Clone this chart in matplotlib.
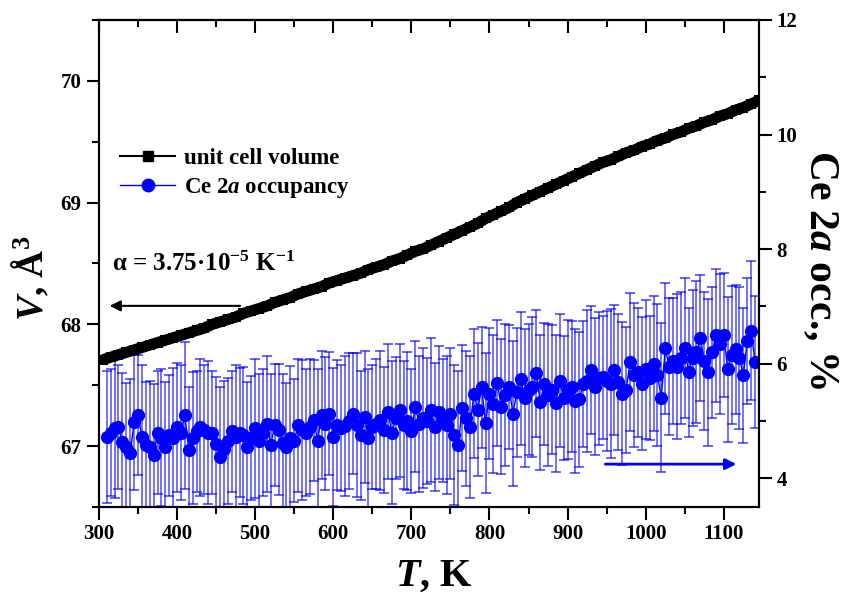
import numpy as np
import matplotlib
matplotlib.use('Agg')
import matplotlib.pyplot as plt
from matplotlib.ticker import MultipleLocator
from matplotlib.lines import Line2D

plt.rcParams['font.family'] = ['Liberation Serif', 'DejaVu Serif']
plt.rcParams['font.weight'] = 'bold'
plt.rcParams['axes.labelweight'] = 'bold'
plt.rcParams['mathtext.fontset'] = 'custom'
plt.rcParams['mathtext.rm'] = 'Liberation Serif:bold'
plt.rcParams['mathtext.it'] = 'Liberation Serif:bold:italic'
plt.rcParams['mathtext.bf'] = 'Liberation Serif:bold'

# unit cell volume (left axis), every 10 K
temp_vol = list(range(305, 1146, 10))
volume = [67.71, 67.73, 67.75, 67.77, 67.79, 67.81, 67.83, 67.85, 67.87, 67.89,
          67.91, 67.93, 67.95, 67.97, 68.00, 68.02, 68.04, 68.06, 68.09, 68.11,
          68.13, 68.15, 68.18, 68.20, 68.22, 68.25, 68.27, 68.29, 68.31, 68.34,
          68.36, 68.38, 68.40, 68.42, 68.45, 68.47, 68.49, 68.52, 68.54, 68.57,
          68.60, 68.62, 68.65, 68.68, 68.71, 68.74, 68.77, 68.80, 68.83, 68.87,
          68.90, 68.93, 68.96, 69.00, 69.03, 69.06, 69.09, 69.12, 69.15, 69.18,
          69.21, 69.24, 69.27, 69.30, 69.33, 69.35, 69.38, 69.41, 69.43, 69.46,
          69.48, 69.51, 69.53, 69.56, 69.58, 69.61, 69.63, 69.66, 69.68, 69.71,
          69.73, 69.76, 69.78, 69.81, 69.84]

# Ce 2a occupancy (right axis), every 5 K
temp_occ = list(range(310, 1141, 5))
occ = [4.72, 4.80, 4.87, 4.89, 4.63, 4.55, 4.44, 4.98, 5.10, 4.72,
       4.58, 4.54, 4.40, 4.80, 4.71, 4.54, 4.75, 4.70, 4.89, 4.80,
       5.10, 4.49, 4.70, 4.82, 4.89, 4.85, 4.80, 4.80, 4.60, 4.37,
       4.52, 4.65, 4.82, 4.72, 4.80, 4.75, 4.54, 4.70, 4.87, 4.66,
       4.80, 4.95, 4.58, 4.93, 4.85, 4.62, 4.54, 4.70, 4.66, 4.93,
       4.85, 4.80, 4.90, 5.01, 4.66, 5.10, 4.95, 5.13, 4.72, 4.93,
       4.88, 4.92, 5.00, 5.13, 4.93, 4.75, 5.07, 4.70, 4.90, 4.95,
       5.01, 4.85, 5.16, 4.80, 5.05, 5.19, 4.93, 5.00, 4.82, 5.25,
       4.95, 5.05, 5.00, 5.19, 4.90, 5.15, 5.01, 4.93, 5.13, 4.75,
       4.58, 5.22, 5.05, 4.89, 5.48, 5.20, 5.59, 4.96, 5.48, 5.30,
       5.66, 5.25, 5.45, 5.59, 5.13, 5.50, 5.74, 5.40, 5.55, 5.60,
       5.83, 5.33, 5.65, 5.45, 5.55, 5.31, 5.70, 5.40, 5.55, 5.60,
       5.35, 5.38, 5.65, 5.70, 5.89, 5.60, 5.75, 5.76, 5.70, 5.65,
       5.89, 5.68, 5.48, 5.55, 6.03, 5.80, 5.85, 5.65, 5.90, 5.75,
       6.00, 5.80, 5.41, 6.27, 5.95, 6.05, 5.95, 6.10, 6.27, 5.85,
       6.10, 6.20, 6.45, 6.05, 5.85, 6.20, 6.50, 6.35, 6.50, 5.90,
       6.15, 6.25, 6.10, 5.80, 6.40, 6.58, 6.03]
occ_err = [1.15, 1.10, 1.22, 1.08, 1.20, 1.12, 1.30, 1.18, 1.05, 1.25,
           1.10, 1.16, 1.24, 1.08, 1.20, 1.14, 1.06, 1.22, 1.12, 1.18,
           1.28, 1.10, 1.15, 1.05, 1.20, 1.12, 1.24, 1.08, 1.16, 1.22,
           1.18, 1.10, 1.06, 1.25, 1.12, 1.20, 1.14, 1.08, 1.22, 1.16,
           1.10, 1.18, 1.24, 1.06, 1.14, 1.20, 1.12, 1.26, 1.08, 1.16,
           1.22, 1.10, 1.18, 1.05, 1.24, 1.12, 1.16, 1.08, 1.20, 1.14,
           1.10, 1.22, 1.18, 1.06, 1.25, 1.12, 1.16, 1.20, 1.08, 1.14,
           1.22, 1.10, 1.18, 1.24, 1.06, 1.16, 1.12, 1.20, 1.08, 1.14,
           1.18, 1.22, 1.10, 1.26, 1.12, 1.16, 1.08, 1.20, 1.14, 1.22,
           1.30, 1.10, 1.18, 1.24, 1.12, 1.16, 1.06, 1.22, 1.14, 1.20,
           1.10, 1.18, 1.24, 1.08, 1.26, 1.12, 1.16, 1.20, 1.14, 1.22,
           1.10, 1.18, 1.06, 1.24, 1.12, 1.20, 1.16, 1.08, 1.22, 1.14,
           1.26, 1.18, 1.10, 1.24, 1.12, 1.20, 1.16, 1.08, 1.22, 1.30,
           1.14, 1.18, 1.24, 1.10, 1.20, 1.26, 1.12, 1.16, 1.22, 1.08,
           1.18, 1.24, 1.30, 1.14, 1.20, 1.10, 1.26, 1.16, 1.22, 1.12,
           1.18, 1.24, 1.10, 1.20, 1.28, 1.14, 1.16, 1.22, 1.08, 1.26,
           1.20, 1.12, 1.24, 1.18, 1.10, 1.22, 1.16]

fig = plt.figure(figsize=(8.48, 5.98), dpi=100)
ax = fig.add_axes([0.1167, 0.1522, 0.7783, 0.8144])
ax2 = ax.twinx()
ax.set_zorder(ax2.get_zorder() + 1)
ax.patch.set_visible(False)

# volume: dense squares form a thick band
ax.plot(temp_vol, volume, color='black', marker='s', markersize=7, mew=0, lw=8,
        solid_capstyle='butt', solid_joinstyle='round')

# occupancy with error bars
ax2.errorbar(temp_occ, occ, yerr=occ_err, fmt='none', ecolor='blue', alpha=0.7,
             elinewidth=1.1, capsize=3.5, capthick=1.2)
ax2.plot(temp_occ, occ, color='blue', marker='o', markersize=8.5, lw=1)

ax.set_xlim(300, 1145)
ax.set_ylim(66.5, 70.5)
ax2.set_ylim(3.5, 12)

ax.xaxis.set_major_locator(MultipleLocator(100))
ax.xaxis.set_minor_locator(MultipleLocator(50))
ax.yaxis.set_major_locator(MultipleLocator(1))
ax.yaxis.set_minor_locator(MultipleLocator(0.5))
ax2.yaxis.set_major_locator(MultipleLocator(2))
ax2.yaxis.set_minor_locator(MultipleLocator(1))

ax.tick_params(which='major', direction='out', length=9, width=1.5, labelsize=15)
ax.tick_params(which='minor', direction='out', length=5, width=1.5)
ax2.tick_params(which='major', direction='out', length=9, width=1.5, labelsize=15)
ax2.tick_params(which='minor', direction='out', length=5, width=1.5)

top = ax.secondary_xaxis('top')
top.xaxis.set_major_locator(MultipleLocator(100))
top.xaxis.set_minor_locator(MultipleLocator(50))
top.tick_params(which='major', direction='in', length=9, width=1.5, labeltop=False)
top.tick_params(which='minor', direction='in', length=5, width=1.5)

for a in (ax, ax2):
    for s in a.spines.values():
        s.set_linewidth(1.5)
top.spines['top'].set_linewidth(1.5)

ax.set_xlabel('$T$, K', fontsize=29)
ax.xaxis.set_label_coords(0.508, -0.105)
ax.set_ylabel('$V$, Å$^3$', fontsize=27)
ax.yaxis.set_label_coords(-0.072, 0.47)
ax2.set_ylabel('Ce 2$a$ occ., %', fontsize=30, rotation=270, va='bottom')
ax2.yaxis.set_label_coords(1.063, 0.487)

ax.text(0.02, 0.50, 'α = 3.75·10$^{-5}$ K$^{-1}$', transform=ax.transAxes,
        fontsize=18, ha='left', va='center')

ax.annotate('', xy=(0.012, 0.413), xytext=(0.218, 0.413), xycoords='axes fraction',
            arrowprops=dict(arrowstyle='-|>', color='black', lw=1.5, mutation_scale=16))
ax2.annotate('', xy=(0.970, 0.088), xytext=(0.763, 0.088), xycoords='axes fraction',
             arrowprops=dict(arrowstyle='-|>', color='blue', lw=2, mutation_scale=16))

handles = [Line2D([], [], color='black', marker='s', markersize=7, lw=1.5),
           Line2D([], [], color='blue', marker='o', markersize=9, lw=1)]
ax.legend(handles, ['unit cell volume', 'Ce 2$a$ occupancy'], loc='upper left',
          bbox_to_anchor=(0.015, 0.76), frameon=False, fontsize=16.5,
          handlelength=2.4, handletextpad=0.4, labelspacing=0.3, borderpad=0)

fig.savefig('out.png', dpi=100)
